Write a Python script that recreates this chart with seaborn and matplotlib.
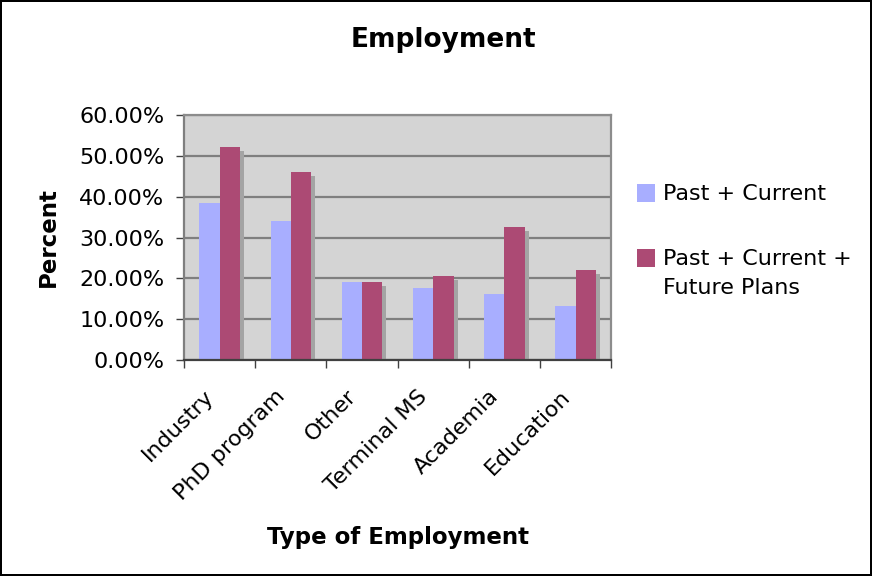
import matplotlib
matplotlib.use("Agg")
import matplotlib.pyplot as plt
import matplotlib.patches as mpatches
import matplotlib.ticker as mticker
import matplotlib.transforms as mtransforms
import seaborn as sns
import pandas as pd

categories = ["Industry", "PhD program", "Other", "Terminal MS", "Academia", "Education"]
past_current = [0.386, 0.341, 0.192, 0.176, 0.162, 0.132]
past_current_future = [0.521, 0.462, 0.192, 0.206, 0.327, 0.221]
series_names = ["Past + Current", "Past + Current +\nFuture Plans"]
colors = ["#a8aeff", "#ac4a74"]

df = pd.DataFrame({
    "Type": categories * 2,
    "Value": past_current + past_current_future,
    "Series": [series_names[0]] * len(categories) + [series_names[1]] * len(categories),
})

sns.set_theme(style="white")
plt.rcParams["font.family"] = ["DejaVu Sans"]
plt.rcParams["text.color"] = "black"
plt.rcParams["xtick.labelcolor"] = "black"
plt.rcParams["ytick.labelcolor"] = "black"

fig = plt.figure(figsize=(8.72, 5.76), dpi=100, linewidth=1.5, edgecolor="black")
ax = fig.add_axes([0.211, 0.375, 0.49, 0.425])

sns.barplot(data=df, x="Type", y="Value", hue="Series", palette=colors,
            width=0.57, ax=ax, saturation=1, gap=0, legend=False,
            linewidth=0, edgecolor="none")

ax.set_facecolor("#d4d4d4")
ax.set_axisbelow(True)
ax.set_ylim(0, 0.60)
ax.set_xlim(-0.5, len(categories) - 0.5)
ax.yaxis.set_major_locator(mticker.MultipleLocator(0.10))
ax.yaxis.set_major_formatter(mticker.FuncFormatter(lambda v, p: f"{v*100:.2f}%"))
ax.grid(axis="y", color="#7f7f7f", linewidth=1.6)
ax.grid(axis="x", visible=False)

# shadows derived from the seaborn bars
shadow_off = mtransforms.ScaledTranslation(4 / 100, -4 / 100, fig.dpi_scale_trans)
for p in list(ax.patches):
    if p.get_height() > 0:
        sh = mpatches.Rectangle(p.get_xy(), p.get_width(), p.get_height(),
                                transform=ax.transData + shadow_off,
                                facecolor="#a4a4a4", edgecolor="none",
                                zorder=0.9, clip_on=True)
        ax.add_patch(sh)
        p.set_zorder(1.5)

for s in ["top", "right"]:
    ax.spines[s].set_color("#8c8c8c")
    ax.spines[s].set_linewidth(1.6)
ax.spines["left"].set_color("#7f7f7f")
ax.spines["left"].set_linewidth(1.6)
ax.spines["bottom"].set_color("#404040")
ax.spines["bottom"].set_linewidth(1.6)
for s in ax.spines.values():
    s.set_zorder(3)

ax.tick_params(axis="y", left=True, length=6, width=1, color="#404040",
               labelsize=16, pad=8)
ax.set_xticks(range(len(categories)))
ax.set_xticklabels(categories, rotation=45, ha="right", rotation_mode="anchor",
                   fontsize=16)
ax.tick_params(axis="x", bottom=False, which="major", pad=10)
ax.set_xticks([i - 0.5 for i in range(len(categories) + 1)], minor=True)
ax.tick_params(axis="x", which="minor", bottom=True, length=6, width=1, color="#404040")
lbl_off = mtransforms.ScaledTranslation(-16 / 100, -4 / 100, fig.dpi_scale_trans)
for lbl in ax.get_xticklabels():
    lbl.set_transform(lbl.get_transform() + lbl_off)

ax.set_xlabel("")
ax.set_ylabel("")
fig.text(0.456, 0.067, "Type of Employment", ha="center", va="center",
         fontsize=16.5, fontweight="bold")
fig.text(0.055, 0.589, "Percent", ha="center", va="center", rotation=90,
         fontsize=16.5, fontweight="bold")
fig.text(0.508, 0.931, "Employment", ha="center", va="center",
         fontsize=19, fontweight="bold")

# legend (manual layout to match the original)
W, H = 872, 576
leg_y = [193, 258]
for c, name, y in zip(colors, series_names, leg_y):
    fig.patches.append(mpatches.Rectangle((637 / W, (H - y - 9) / H), 18 / W, 18 / H,
                                          transform=fig.transFigure, figure=fig,
                                          facecolor=c, edgecolor="none"))
    fig.text(663 / W, (H - y - 1) / H, name.split("\n")[0], ha="left", va="center",
             fontsize=16)
    if "\n" in name:
        fig.text(663 / W, (H - y - 30) / H, name.split("\n")[1], ha="left",
                 va="center", fontsize=16)

fig.savefig("out.png", dpi=100, edgecolor=fig.get_edgecolor())
